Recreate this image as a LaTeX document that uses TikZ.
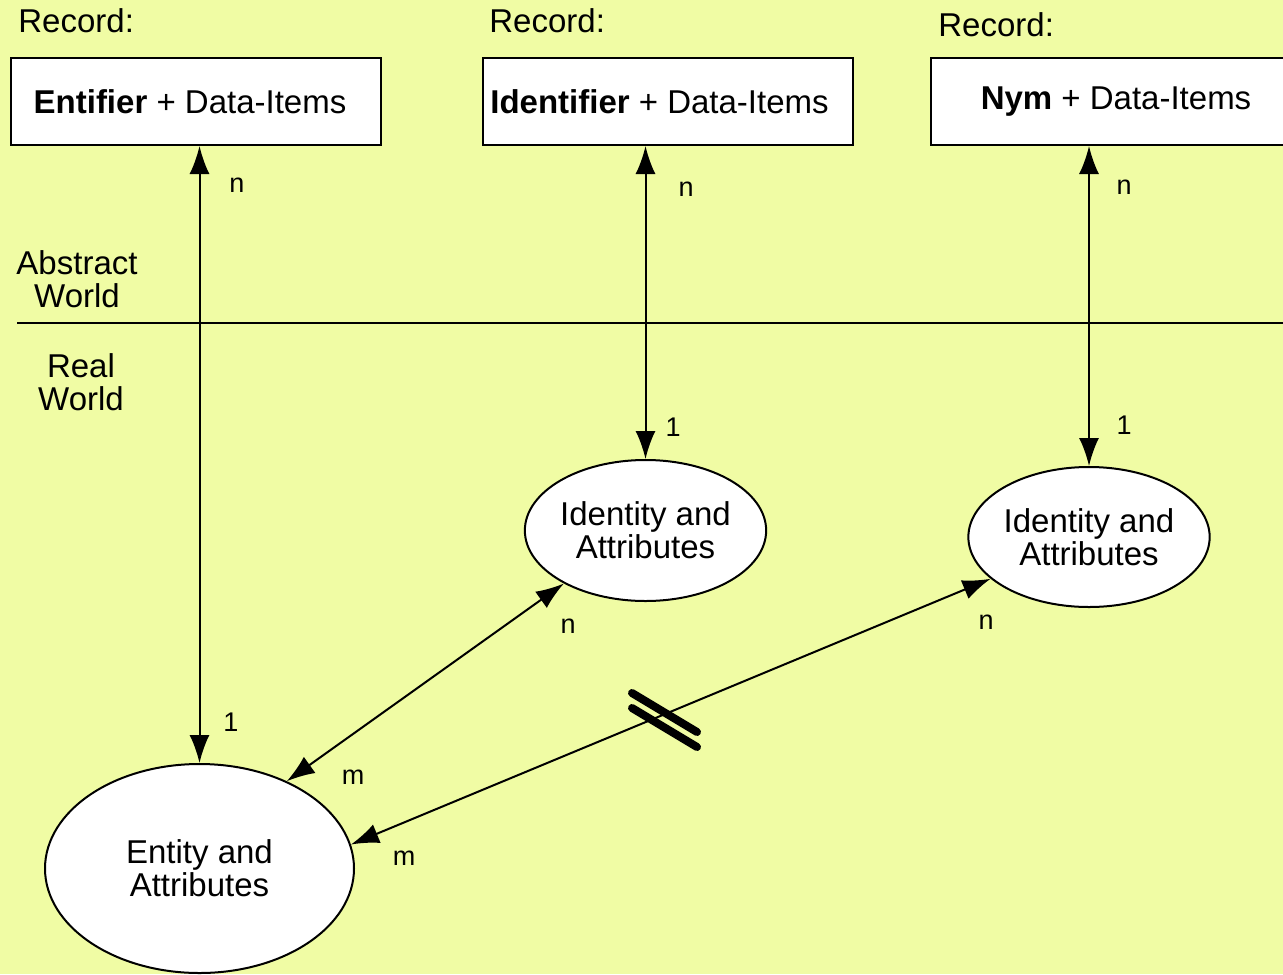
\documentclass[tikz,border=0pt]{standalone}
\usepackage{fontspec}
\setmainfont{Liberation Sans}
\usetikzlibrary{shapes,arrows.meta}
\definecolor{paper}{RGB}{240,252,164}
\tikzstyle{record} = [rectangle, draw, fill=white, line width=1pt,
    minimum width=185pt, minimum height=43.5pt, inner sep=0pt,
    font=\fontsize{16.5}{16.5}\selectfont]
\tikzstyle{thing} = [ellipse, draw, fill=white, line width=1pt,
    align=center, inner sep=0pt, font=\fontsize{16.5}{16.5}\selectfont]
\tikzstyle{tag} = [inner sep=0pt, align=center,
    font=\fontsize{16.5}{16.5}\selectfont]
\tikzstyle{card} = [inner sep=0pt, font=\fontsize{13.5}{13.5}\selectfont]
\tikzstyle{line} = [draw, line width=1pt,
    {Latex[length=14pt,width=10pt]}-{Latex[length=14pt,width=10pt]}]
\tikzstyle{bar} = [draw, line width=4pt, line cap=round]

\begin{document}
\begin{tikzpicture}[x=0.5pt, y=-0.5pt]
    \fill[paper] (0,0) rectangle (1283,974);
    \useasboundingbox (0,0) rectangle (1283,974);

    % Place records
    \node [tag, anchor=base west] (r1) at (18,33) {Record:};
    \node [tag, anchor=base west] (r2) at (489,33) {Record:};
    \node [tag, anchor=base west] (r3) at (938,37) {Record:};
    \node [record] (b1) at (196,101.5) {\textbf{Entifier} + Data-Items\hspace*{6pt}};
    \node [record] (b2) at (667.5,101.5) {\textbf{Identifier} + Data-Items\hspace*{8pt}};
    \node [record] (b3) at (1116,101.5) {\textbf{Nym} + Data-Items};

    % Place world divider
    \coordinate (wl) at (17,323);
    \coordinate (wr) at (1290,323);
    \draw [line width=1pt] (wl) -- (wr);
    \node [tag] (abs) at (77,279.5) {Abstract\\World};
    \node [tag] (real) at (81,382.5) {Real\\World};

    % Place entity and identities
    \node [thing, minimum width=154.5pt, minimum height=104.5pt] (e1) at (199.5,868.5) {Entity and\\Attributes};
    \node [thing, minimum width=118.5pt, minimum height=70.5pt] (e2) at (645.5,530.5) {Identity and\\Attributes};
    \node [thing, minimum width=118pt, minimum height=70pt] (e3) at (1089,537) {Identity and\\Attributes};

    % Draw edges
    \path [line] (e1.north) -- (e1.north |- b1.south);
    \path [line] (e2.north) -- (e2.north |- b2.south);
    \path [line] (e3.north) -- (e3.north |- b3.south);
    \path [line] (e1.45.5) -- (e2.213);
    \path [line] (e1.9.6) -- (e3.203.6);
    \draw [bar] (632,693) -- (697,732);
    \draw [bar] (632,708) -- (697,747);

    % Place cardinalities
    \node [card] (c1a) at (237,185) {n};
    \node [card] (c1b) at (231,722) {1};
    \node [card] (c2a) at (686,189) {n};
    \node [card] (c2b) at (673,427) {1};
    \node [card] (c3a) at (1124,187) {n};
    \node [card] (c3b) at (1124,425) {1};
    \node [card] (c4a) at (353,777) {m};
    \node [card] (c4b) at (568,626) {n};
    \node [card] (c5a) at (404,858) {m};
    \node [card] (c5b) at (986,622) {n};

\end{tikzpicture}
\end{document}
